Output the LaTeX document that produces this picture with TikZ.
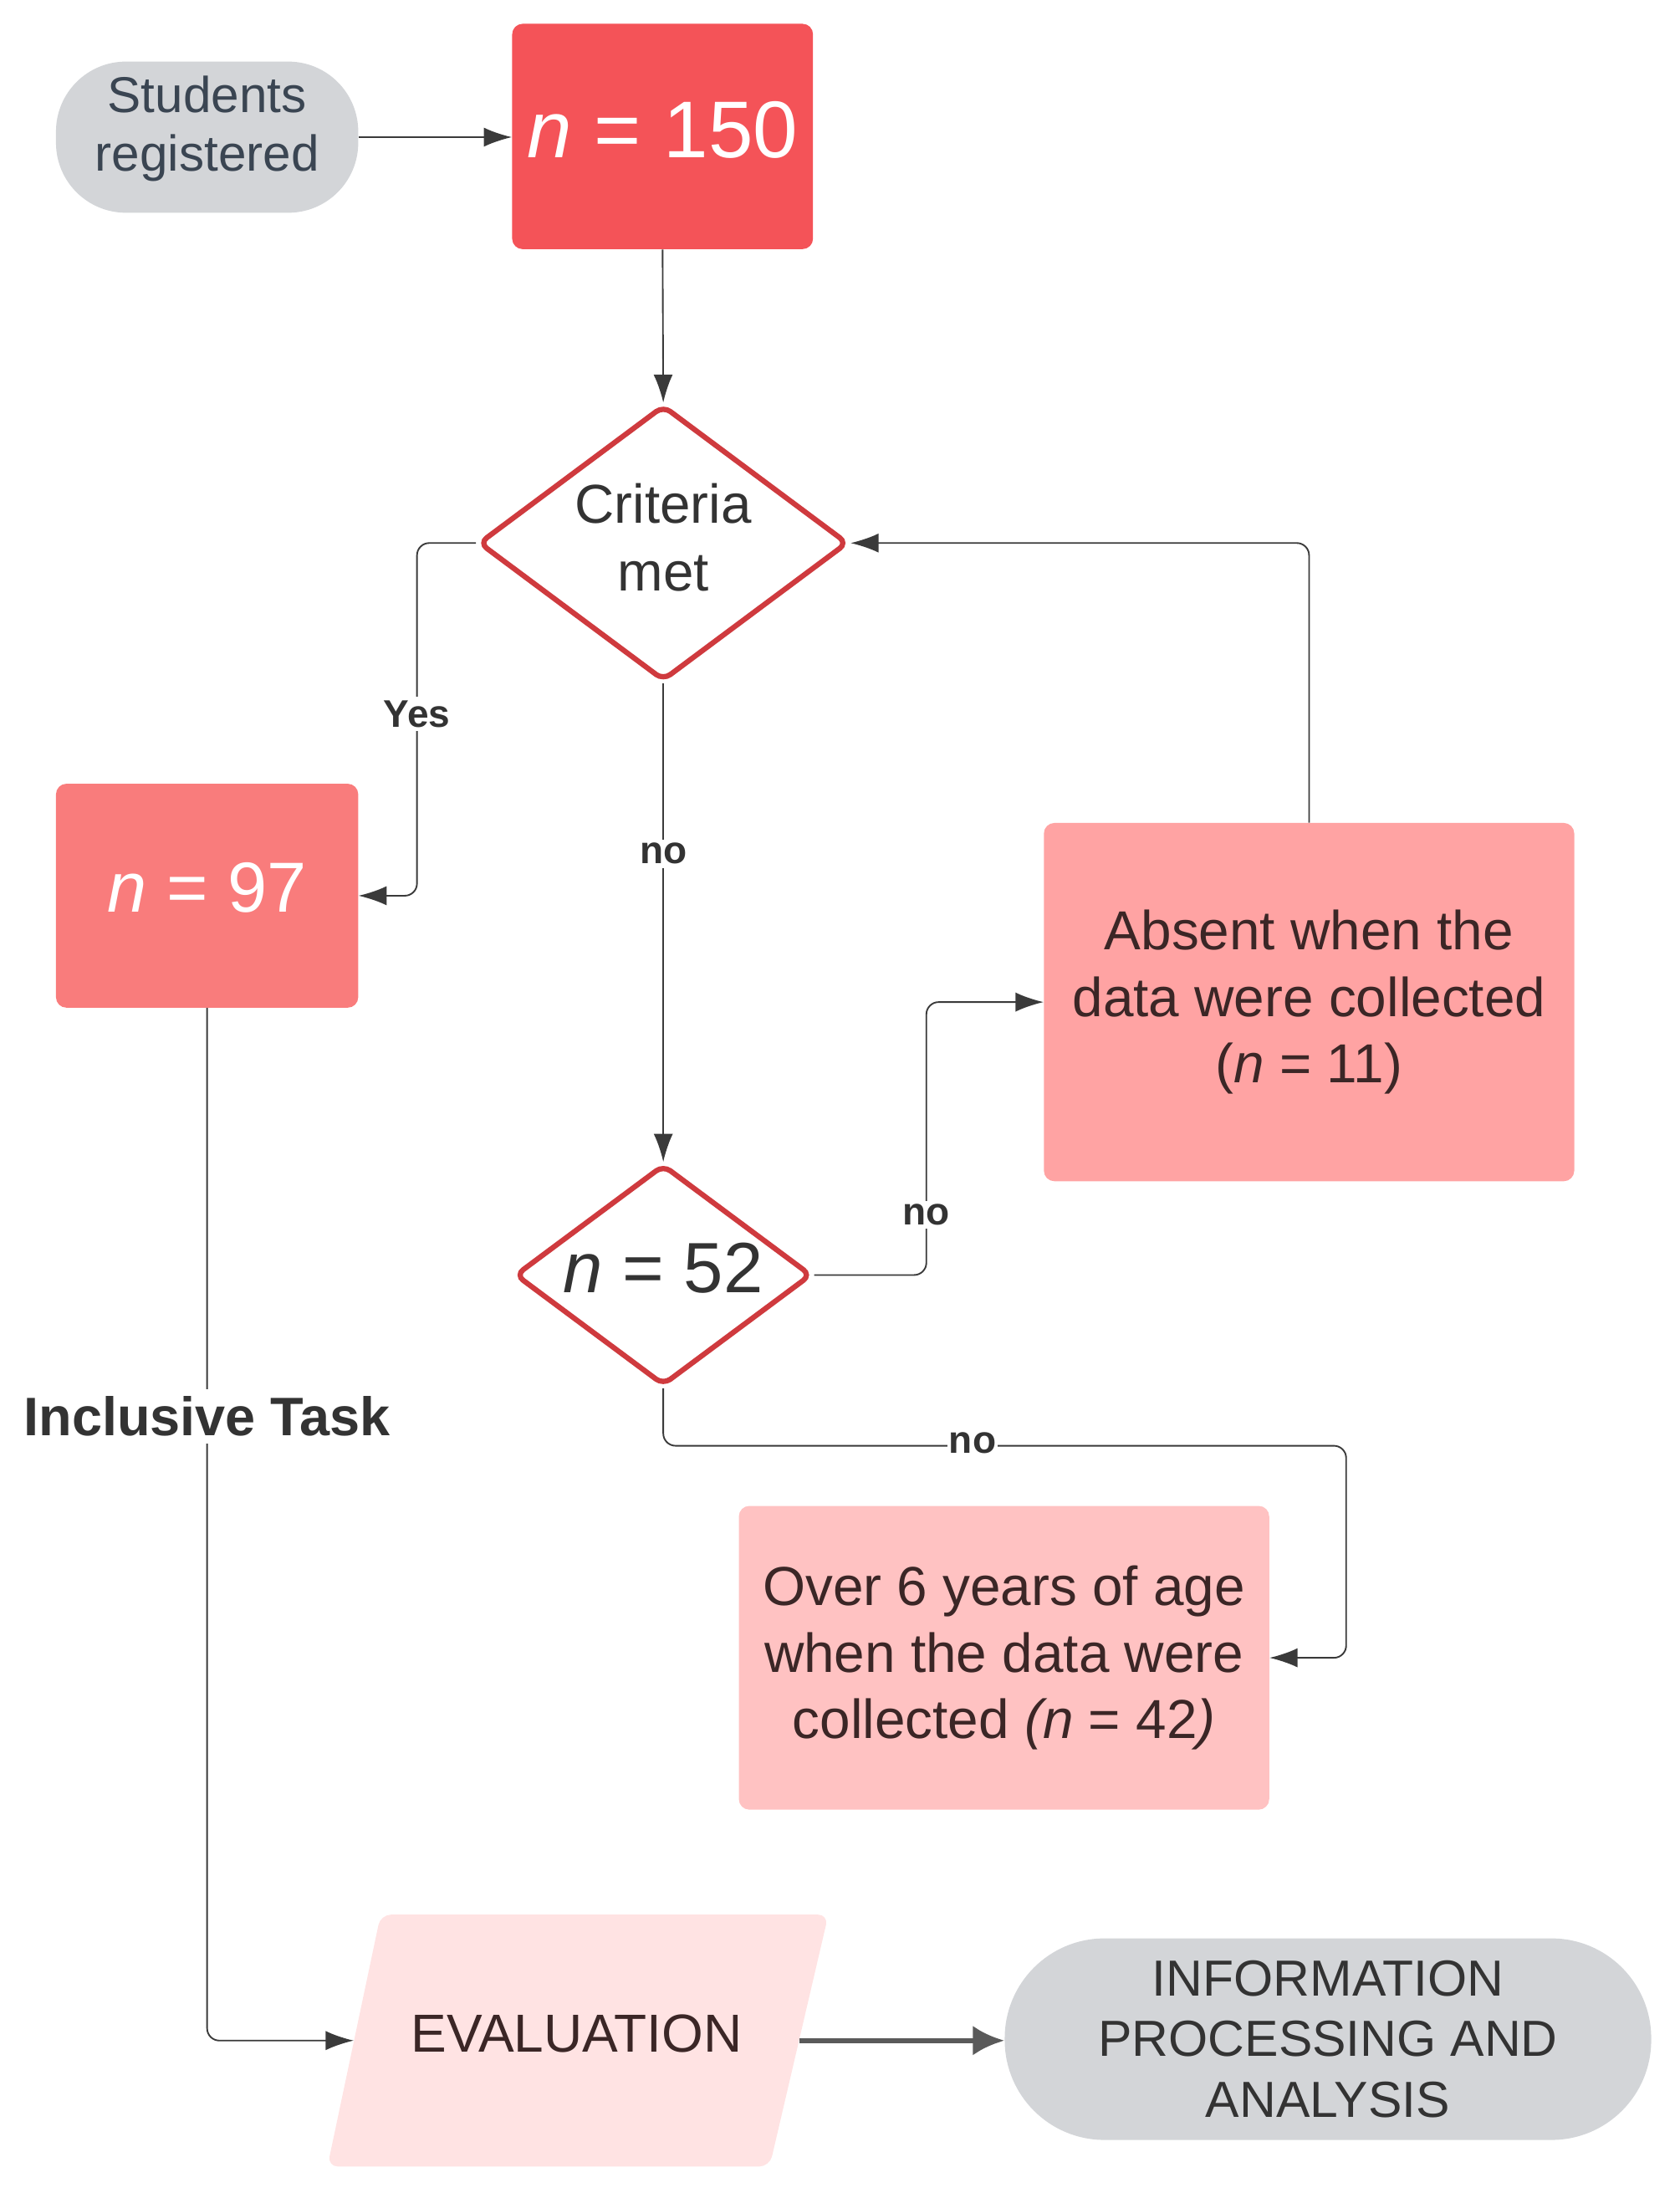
\documentclass[tikz,border=0pt]{standalone}
\usepackage{fontspec}
\setmainfont{Liberation Sans}
\usetikzlibrary{shapes.geometric,arrows.meta}
\definecolor{nOneC}{HTML}{F45358}
\definecolor{nTwoC}{HTML}{F97C7C}
\definecolor{absC}{HTML}{FFA3A3}
\definecolor{overC}{HTML}{FFC2C2}
\definecolor{evalC}{HTML}{FFE3E3}
\definecolor{grayC}{HTML}{D3D5D8}
\definecolor{diaC}{HTML}{CF3A3E}
\definecolor{lineC}{HTML}{3A3A3A}
\definecolor{thickC}{HTML}{5A5A5A}
\definecolor{stuT}{HTML}{3A4552}
\definecolor{pinkT}{HTML}{3B2626}
\definecolor{darkT}{HTML}{333333}
\begin{document}
\begin{tikzpicture}[x=0.8pt,y=-0.8pt,
  box/.style={rectangle, rounded corners=6pt, inner sep=0pt, align=center},
  diam/.style={diamond, draw=diaC, line width=3pt, fill=white, inner sep=0pt, rounded corners=5pt},
  conn/.style={draw=lineC, line width=0.9pt, rounded corners=7pt, -{Latex[length=16pt,width=11pt]}},
  bigconn/.style={draw=thickC, line width=3pt, -{Latex[length=18pt,width=17pt]}},
  lbl/.style={fill=white, inner sep=2pt, text=darkT, font=\fontsize{22}{24}\selectfont\bfseries},
  txt/.style={align=center, inner sep=0pt}
]
\useasboundingbox (0,0) rectangle (1200,1570.5);

% nodes
\node[box, fill=grayC, rounded corners=40pt, minimum width=172.8pt, minimum height=86.4pt] (stu) at (148,98) {};
\node[txt, text=stuT, font=\fontsize{28.8}{33.6}\selectfont] (stuT) at (148,92) {Students\\registered};
\node[box, fill=nOneC, minimum width=172pt, minimum height=128.8pt] (n150) at (473.5,97.5) {};
\node[txt, text=white, font=\fontsize{46}{50}\selectfont] (n150T) at (473.5,93) {\textit{n} = 150};
\node[diam, minimum width=211.2pt, minimum height=157.6pt] (crit) at (474,388) {};
\node[txt, text=darkT, font=\fontsize{31.3}{38.4}\selectfont] (critT) at (474,384) {Criteria\\met};
\node[box, fill=nTwoC, minimum width=172.8pt, minimum height=128pt] (n97) at (148,640) {};
\node[txt, text=white, font=\fontsize{40.5}{44}\selectfont] (n97T) at (148,634) {\textit{n} = 97};
\node[box, fill=absC, minimum width=303.2pt, minimum height=204.8pt, text=pinkT,
      font=\fontsize{31.4}{38}\selectfont] (abs) at (935.5,716) {Absent when the\\data were collected\\(\textit{n} = 11)};
\node[diam, minimum width=169.6pt, minimum height=126.4pt] (n52) at (474,911) {};
\node[txt, text=darkT, font=\fontsize{40.7}{44}\selectfont] (n52T) at (474,906) {\textit{n} = 52};
\node[box, fill=overC, minimum width=303.2pt, minimum height=173.6pt, text=pinkT,
      font=\fontsize{31.4}{38}\selectfont] (over) at (717.5,1184.5) {Over 6 years of age\\when the data were\\collected \textit{(n} = 42\textit{)}};
% evaluation parallelogram
\fill[evalC, rounded corners=6pt] (272,1368) -- (592,1368) -- (550,1548) -- (234,1548) -- cycle;
\node[rectangle, minimum width=254.4pt, minimum height=144pt, inner sep=0pt] (eval) at (412,1458) {};
\node[txt, text=pinkT, font=\fontsize{30.6}{34}\selectfont] (evalT) at (412,1453) {EVALUATION};
\node[box, fill=grayC, rounded corners=57pt, minimum width=369.6pt, minimum height=115.2pt,
      text=darkT, font=\fontsize{29}{34.8}\selectfont] (info) at (949,1457) {INFORMATION\\PROCESSING AND\\ANALYSIS};

% connectors
\draw[conn] (stu.east) -- (stu.east -| n150.west);
\draw[conn] (n150.south) -- (crit.north);
\draw[conn] (crit.west) -| (298,500) |- (n97.east);
\draw[conn] (crit.south) -- (n52.north);
\draw[conn] (abs.north) |- (crit.east);
\draw[conn] (n52.east) -| (662,800) |- (abs.west);
\draw[conn] (n52.south) |- (962,1033) |- (over.east);
\draw[conn] (n97.south) |- (eval.west);
\draw[bigconn] (eval.east) -- (eval.east -| info.west);

% labels
\node[lbl] (yes) at (298,510) {Yes};
\node[lbl] (no1) at (474,610) {no};
\node[lbl] (no2) at (662,868) {no};
\node[lbl, inner xsep=1pt, inner ysep=0pt] (no3) at (695,1031) {no};
\node[lbl, font=\fontsize{31}{34}\selectfont\bfseries, inner xsep=0pt, inner ysep=4pt] (inc) at (148,1012) {Inclusive Task};
\end{tikzpicture}
\end{document}
